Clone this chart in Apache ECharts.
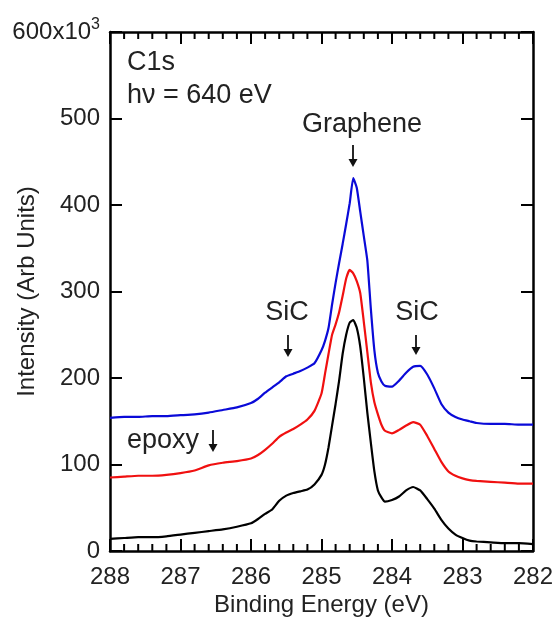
<!DOCTYPE html>
<html>
<head>
<meta charset="utf-8">
<script src="https://cdn.jsdelivr.net/npm/echarts@6/dist/echarts.min.js"></script>
<style>
  html, body { margin: 0; padding: 0; background: #fff; }
  #chart { width: 555px; height: 617px; }
</style>
</head>
<body>
<div id="chart"></div>
<script>
  // binding energy grid (eV), shared by all three spectra
  const energy = [288, 287.8, 287.6, 287.4, 287.2, 287.0, 286.8, 286.6, 286.4, 286.2,
    286.0, 285.9, 285.8, 285.7, 285.6, 285.5, 285.4, 285.3, 285.2, 285.1,
    285.0, 284.95, 284.9, 284.85, 284.8, 284.75, 284.7, 284.65, 284.6, 284.55,
    284.5, 284.45, 284.4, 284.35, 284.3, 284.25, 284.2, 284.15, 284.1, 284.0,
    283.9, 283.8, 283.7, 283.6, 283.5, 283.4, 283.3, 283.2, 283.1, 283.0,
    282.9, 282.8, 282.6, 282.4, 282.2, 282.0];
  // intensities in units of 10^3
  const blueVals = [154, 155, 155, 156, 156, 157, 158, 160, 163, 166,
    171, 176, 183, 189, 195, 202, 205, 208, 212, 217,
    232, 243, 258, 285, 310, 333, 355, 378, 402, 431,
    420, 392, 364, 336, 280, 232, 206, 196, 191, 190,
    197, 206, 213, 214, 204, 188, 170, 160, 155, 152,
    150, 148, 147, 147, 146, 146];
  const redVals = [85, 86, 87, 87, 88, 90, 93, 99, 102, 104,
    107, 111, 117, 124, 132, 137, 141, 146, 152, 162,
    182, 205, 228, 250, 262, 276, 295, 315, 325, 321,
    312, 298, 265, 230, 195, 172, 158, 146, 139, 136,
    140, 145, 149, 146, 133, 118, 103, 92, 87, 84,
    82, 81, 80, 79, 78, 78];
  const blackVals = [14, 15, 16, 16, 17, 19, 21, 23, 25, 28,
    32, 37, 43, 48, 58, 64, 67, 69, 71, 77,
    88, 100, 120, 145, 170, 197, 228, 250, 264, 267,
    258, 236, 200, 160, 125, 92, 70, 62, 57, 59,
    63, 70, 74, 70, 60, 49, 36, 26, 19, 15,
    12, 11, 10, 9, 9, 8];
  // minor tick positions on the energy axis (every 0.2 eV between the labelled ones)
  const minorTicks = [];
  for (let k = 1; k < 30; k++) { if (k % 5) minorTicks.push(+(282 + k * 0.2).toFixed(1)); }

  const pairs = (vals) => energy.map((e, i) => [e, vals[i]]);
  const font = 'Liberation Sans';
  const ink = '#222';

  const chart = echarts.init(document.getElementById('chart'));

  const xCommon = {
    type: 'value', min: 282, max: 288, interval: 1, inverse: true,
    axisLine: { show: true, onZero: false, lineStyle: { color: '#000', width: 2.5 } },
    axisTick: { show: true, inside: true, length: 12, lineStyle: { color: '#000', width: 2 } },
    axisLabel: { show: false },
    splitLine: { show: false }
  };
  const yCommon = {
    type: 'value', min: 0, max: 600, interval: 100,
    axisLine: { show: true, onZero: false, lineStyle: { color: '#000', width: 2.5 } },
    axisTick: { show: true, inside: true, length: 12, lineStyle: { color: '#000', width: 2 } },
    splitLine: { show: false }
  };

  function arrow(x, y1, y2) {
    return [
      { type: 'line', shape: { x1: x, y1: y1, x2: x, y2: y2 - 4 }, style: { stroke: '#111', lineWidth: 1.8 } },
      { type: 'polygon', shape: { points: [[x - 4.5, y2 - 8], [x + 4.5, y2 - 8], [x, y2]] }, style: { fill: '#111' } }
    ];
  }
  const txt = (x, y, s, align) => ({
    type: 'text', x: x, y: y,
    style: { text: s, font: '27px ' + font, fill: ink, textAlign: align || 'left', textVerticalAlign: 'middle' }
  });
  // minor ticks as short vertical lines placed through the axis scales
  const tickSeries = (yVal, dir) => ({
    type: 'custom', silent: true, clip: false, z: 5,
    data: minorTicks.map((e) => [e, yVal]),
    renderItem: (params, api) => {
      const p = api.coord([api.value(0), api.value(1)]);
      return {
        type: 'line',
        shape: { x1: p[0], y1: p[1], x2: p[0], y2: p[1] + dir * 7 },
        style: { stroke: '#000', lineWidth: 2 }
      };
    }
  });

  const option = {
    backgroundColor: '#fff',
    animation: false,
    grid: { left: 110, right: 22, top: 32, bottom: 66, containLabel: false, outerBoundsMode: 'none' },
    xAxis: [
      Object.assign({}, xCommon, {
        position: 'bottom',
        name: 'Binding Energy (eV)', nameLocation: 'middle', nameGap: 42, nameMoveOverlap: false,
        nameTextStyle: { fontFamily: font, fontSize: 24, color: ink },
        axisLabel: { show: true, fontFamily: font, fontSize: 24, color: ink, margin: 14 }
      }),
      Object.assign({}, xCommon, { position: 'top' })
    ],
    yAxis: [
      Object.assign({}, yCommon, {
        position: 'left',
        name: 'Intensity (Arb Units)', nameLocation: 'middle', nameGap: 71, nameMoveOverlap: false,
        nameTextStyle: { fontFamily: font, fontSize: 24, color: ink },
        axisLabel: {
          fontFamily: font, fontSize: 24, color: ink, margin: 10,
          formatter: (v) => v === 600 ? '{a|600x10}{b|3}' : String(v),
          rich: {
            a: { fontFamily: font, fontSize: 24, color: ink },
            b: { fontFamily: font, fontSize: 16, color: ink, verticalAlign: 'top', padding: [0, 0, 14, 0] }
          }
        }
      }),
      Object.assign({}, yCommon, { position: 'right', axisLabel: { show: false } })
    ],
    series: [
      { name: 'top', type: 'line', data: pairs(blueVals), showSymbol: false, smooth: 0.15,
        lineStyle: { color: '#0a0ad8', width: 2.2 } },
      { name: 'middle', type: 'line', data: pairs(redVals), showSymbol: false, smooth: 0.15,
        lineStyle: { color: '#f01010', width: 2.2 } },
      { name: 'bottom', type: 'line', data: pairs(blackVals), showSymbol: false, smooth: 0.15,
        lineStyle: { color: '#000', width: 2.2 } },
      tickSeries(0, -1),
      tickSeries(600, 1)
    ],
    graphic: [
      txt(127, 63, 'C1s'),
      txt(127, 96, 'h\u03bd = 640 eV'),
      txt(362, 125, 'Graphene', 'center'),
      ...arrow(353, 145, 167),
      txt(287, 313, 'SiC', 'center'),
      ...arrow(288, 335, 357),
      txt(417, 313, 'SiC', 'center'),
      ...arrow(416, 335, 355),
      txt(127, 441, 'epoxy'),
      ...arrow(213, 430, 452)
    ]
  };
  chart.setOption(option);
</script>
</body>
</html>
